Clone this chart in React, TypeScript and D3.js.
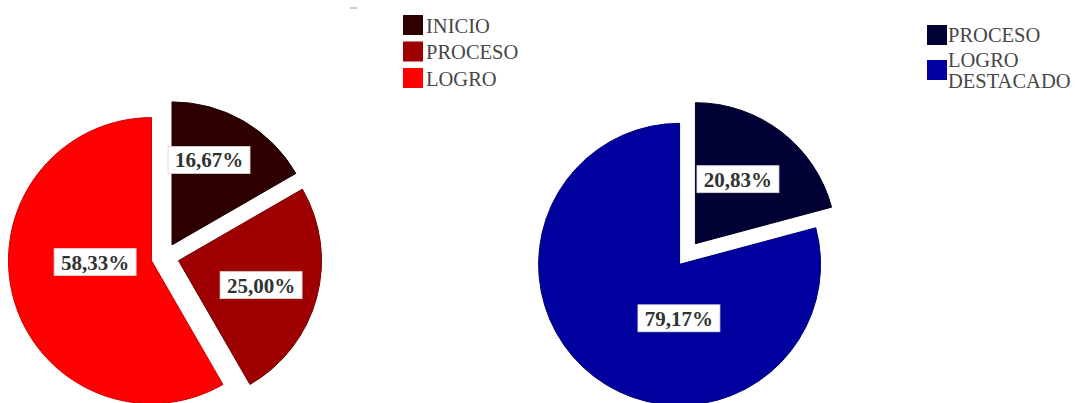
import React from "react";
import * as d3 from "d3";

// ---- data ----
const leftCategories = ["INICIO", "PROCESO", "LOGRO"];
const leftValues = [16.67, 25.0, 58.33];
const leftColors = ["#2e0000", "#9e0000", "#ff0000"];

const rightCategories = ["PROCESO", "LOGRO DESTACADO"];
const rightValues = [20.83, 79.17];
const rightColors = ["#000035", "#00009e"];

const W = 1077;
const H = 403;
const serif = "'Liberation Serif', 'Times New Roman', serif";

type PieProps = {
  cx: number;
  cy: number;
  r: number;
  explode: number;
  values: number[];
  colors: string[];
  strokes: string[];
  labelFrac: number[];
  labelShift: number[]; // degrees of angular nudge
};

const fmt = (v: number) => v.toFixed(2).replace(".", ",") + "%";

function Pie({ cx, cy, r, explode, values, colors, strokes, labelFrac, labelShift }: PieProps) {
  const pie = d3.pie<number>().sort(null).value((d) => d).startAngle(0).endAngle(2 * Math.PI);
  const arcs = pie(values);
  const arc = d3.arc<d3.PieArcDatum<number>>().innerRadius(0).outerRadius(r);
  return (
    <g transform={`translate(${cx},${cy})`}>
      {arcs.map((a, i) => {
        const mid = (a.startAngle + a.endAngle) / 2;
        const dx = Math.sin(mid) * explode;
        const dy = -Math.cos(mid) * explode;
        return (
          <path
            key={"s" + i}
            d={arc(a) || ""}
            transform={`translate(${dx},${dy})`}
            fill={colors[i]}
            stroke={strokes[i]}
            strokeWidth={1}
          />
        );
      })}
      {arcs.map((a, i) => {
        const mid = (a.startAngle + a.endAngle) / 2 + (labelShift[i] * Math.PI) / 180;
        const rr = r * labelFrac[i];
        const x = Math.sin(mid) * rr;
        const y = -Math.cos(mid) * rr;
        const bw = 82;
        const bh = 27;
        return (
          <g key={"l" + i} transform={`translate(${x},${y})`}>
            <rect x={-bw / 2} y={-bh / 2} width={bw} height={bh} fill="#ffffff" stroke="#d8d8d8" strokeWidth={0.8} />
            <text
              x={0}
              y={7.5}
              textAnchor="middle"
              fontFamily={serif}
              fontWeight="bold"
              fontSize={21}
              fill="#2f3432"
            >
              {fmt(a.data)}
            </text>
          </g>
        );
      })}
    </g>
  );
}

export default function App() {
  return (
    <svg
      width={W}
      height={H}
      viewBox={`0 0 ${W} ${H}`}
      style={{ position: "absolute", left: 0, top: 0, background: "#ffffff" }}
    >
      <rect x={0} y={0} width={W} height={H} fill="#ffffff" />
      <line x1={350} y1={8} x2={357} y2={8} stroke="#9a9a9a" strokeWidth={1} />

      <Pie
        cx={165}
        cy={257}
        r={143}
        explode={14}
        values={leftValues}
        colors={leftColors}
        strokes={["#1a0000", "#6e0000", "#d00000"]}
        labelFrac={[0.745, 0.7, 0.49]}
        labelShift={[-5.6, 1.3, 10.9]}
      />
      <Pie
        cx={687.5}
        cy={254}
        r={141}
        explode={13}
        values={rightValues}
        colors={rightColors}
        strokes={["#000020", "#000070"]}
        labelFrac={[0.64, 0.46]}
        labelShift={[-3.5, -29.9]}
      />

      {/* left legend */}
      <g>
        {leftCategories.map((c, i) => (
          <g key={c} transform={`translate(403,${15 + i * 26.5})`}>
            <rect x={0} y={0} width={20} height={20} fill={leftColors[i]} />
            <text x={23} y={17.5} fontFamily={serif} fontSize={20.5} fill="#474747">
              {c}
            </text>
          </g>
        ))}
      </g>

      {/* right legend */}
      <g>
        {rightCategories.map((c, i) => {
          const words = c.split(" ");
          const top = i === 0 ? 25 : 60;
          return (
            <g key={c} transform={`translate(927,${top})`}>
              <rect x={0} y={0} width={20} height={20} fill={rightColors[i]} />
              <text fontFamily={serif} fontSize={20.5} fill="#474747">
                {words.map((w, j) => (
                  <tspan key={j} x={21} y={(words.length > 1 ? 7 : 17) + j * 21}>
                    {w}
                  </tspan>
                ))}
              </text>
            </g>
          );
        })}
      </g>
    </svg>
  );
}
